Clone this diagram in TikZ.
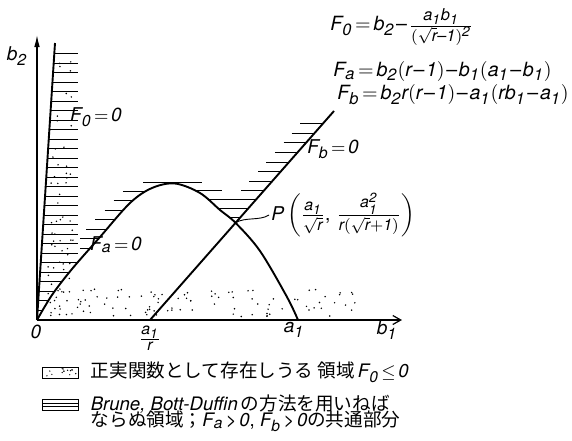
\documentclass[tikz,border=0pt]{standalone}
\usepackage{amsmath}
\usepackage{fontspec}
\setmainfont{TeX Gyre Heros}
\newfontfamily\jpfont{Noto Sans CJK JP}
\usepackage[italic]{mathastext}
\usepackage{tikz}
\usetikzlibrary{arrows.meta,positioning,calc}
\newcommand{\itd}[1]{\textit{#1}}
\newcommand{\facurve}{plot[smooth,tension=0.55] coordinates {(0,0) (1.5,2.5) (3.5,5.1)
  (6.3,8.3) (9.3,11.7) (11.5,13.2) (13.8,13.65) (16.3,12.7) (18.3,11.0)
  (19.85,9.72) (22.3,6.9) (25,2.3) (26.1,0)}}
\tikzset{
  curve/.style    = {line width=0.95pt},
  axisline/.style = {line width=0.6pt},
  hatch/.style    = {line width=0.45pt},
  stip/.style     = {radius=0.42pt},
  lbl/.style      = {inner sep=1pt, font=\fontsize{9.5}{11}\selectfont},
  eq/.style       = {inner sep=0pt, anchor=west, font=\fontsize{9.8}{11}\selectfont},
  legend/.style   = {inner sep=0pt, anchor=west, text height=7pt, text depth=2pt,
                     font=\fontsize{9.3}{11}\selectfont},
  dotkey/.style   = {draw, line width=0.4pt, minimum width=18pt, minimum height=5.5pt, inner sep=0pt,
                     path picture={\foreach \k in {1,...,14}
                       \fill ($(path picture bounding box.south west)+(rnd*16pt+1pt,rnd*4pt+0.8pt)$) circle[radius=0.35pt];}},
  hatchkey/.style = {draw, line width=0.4pt, minimum width=18pt, minimum height=5.5pt, inner sep=0pt,
                     path picture={
                       \draw[line width=0.4pt] ($(path picture bounding box.south west)!0.333!(path picture bounding box.north west)$)
                         -- ($(path picture bounding box.south east)!0.333!(path picture bounding box.north east)$);
                       \draw[line width=0.4pt] ($(path picture bounding box.south west)!0.667!(path picture bounding box.north west)$)
                         -- ($(path picture bounding box.south east)!0.667!(path picture bounding box.north east)$);}},
}
\thickmuskip=2.5mu plus 1mu
\medmuskip=1.5mu plus 1mu
\begin{document}
\begin{tikzpicture}[x=5pt,y=5pt]
  \useasboundingbox (-3.7,-12) rectangle (53.5,32);
  \coordinate (O) at (0,0);
  \coordinate (b1end) at (36.5,0);
  \coordinate (b2end) at (0,28.5);
  \coordinate (ar) at (11.3,0);
  \coordinate (a1) at (26.1,0);
  \coordinate (F0top) at (1.8,27.7);
  \coordinate (Fbtop) at (29.7,20.9);
  \coordinate (P) at (19.85,9.72);

  % dotted region F_0 <= 0
  \pgfmathsetseed{31}
  \foreach \i in {1,...,105}
    \fill (rnd*31.6+0.6, rnd*2.8+0.3) circle[stip];
  \foreach \i in {1,...,55}{
    \pgfmathsetmacro\hh{rnd*25.8+0.4}
    \fill ({0.065*\hh+0.45+rnd*(3.2-0.065*\hh)},\hh) circle[stip];
  }

  % hatching, cut off below F_a = 0
  \begin{scope}
    \clip \facurve -- (40,0) -- (40,32) -- (-4,32) -- (-4,0) -- cycle;
    \foreach \i in {0,...,27}{
      \pgfmathsetmacro\hh{1.0+0.95*\i}
      \draw[hatch] ({0.065*\hh},\hh) -- (4.1,\hh);
    }
    \foreach \hh in {7.2,8.15,9.1,10.05,11.0,11.95,12.9}
      \draw[hatch] ({max(4.3,0.96*\hh-3.8)},\hh) -- (14,\hh);
    \draw[hatch] (10.6,13.8) -- (16.5,13.8);
    \draw[hatch] (14,13.0) -- (18.5,13.0);
    \draw[hatch] (15,12.1) -- (20.3,12.1);
    \foreach \hh in {19.7,18.7,17.8,16.8,15.8,14.9,13.9,13.0,12.1}
      \draw[hatch] ({11.3+0.8804*\hh-2.3},\hh) -- ({11.3+0.8804*\hh},\hh);
    \foreach \hh in {11.2,10.3}
      \draw[hatch] (15,\hh) -- ({11.3+0.8804*\hh},\hh);
  \end{scope}

  % axes
  \draw[axisline,-{Straight Barb[length=4pt,width=4.5pt]}] (O) -- (b1end);
  \draw[axisline,-{Latex[length=6pt,width=2.8pt]}] (O) -- (b2end);

  % boundaries
  \draw[curve] (O) -- (F0top);
  \draw[curve] \facurve;
  \draw[curve] (ar) -- (Fbtop);

  \node[lbl] (lb2) at (-2.0,26.4) {$b_{\itd{2}}$};
  \node[lbl] (lb1) at (35.0,-1.0) {$b_{\itd{1}}$};
  \node[lbl] (l0) at (-0.1,-1.2) {\itd{0}};
  \node[lbl] (lar) at (11.3,-1.8) {$\frac{a_{\itd{1}}}{r}$};
  \node[lbl] (la1) at (25.7,-1.0) {$a_{\itd{1}}$};
  \node[lbl] (lF0) at (5.9,20.3) {$F_{\itd{0}}=\itd{0}$};
  \node[lbl] (lFa) at (7.9,7.5) {$F_a=\itd{0}$};
  \node[lbl] (lFb) at (29.6,17.1) {$F_b=\itd{0}$};
  \node[lbl, anchor=west] (Plab) at (23.2,10.5)
    {$P\left(\frac{a_{\itd{1}}}{\sqrt{r}},\,\frac{a_{\itd{1}}^{\itd{2}}}{r(\sqrt{r}+\itd{1})}\right)$};
  \draw[hatch] (P) .. controls +(0.9,0.6) and +(-0.9,-0.6) .. (Plab.west);

  \node[eq] (eq0) at (29.3,29.3)
    {$F_{\itd{0}}=b_{\itd{2}}-\frac{a_{\itd{1}}b_{\itd{1}}}{(\sqrt{r}-\itd{1})^{\itd{2}}}$};
  \node[eq] (eqa) at (29.6,24.9)
    {$F_a=b_{\itd{2}}(r-\itd{1})-b_{\itd{1}}(a_{\itd{1}}-b_{\itd{1}})$};
  \node[eq] (eqb) at (30.0,22.5)
    {$F_b=b_{\itd{2}}r(r-\itd{1})-a_{\itd{1}}(rb_{\itd{1}}-a_{\itd{1}})$};

  % legend
  \node[dotkey] (key1) at (2.3,-5.25) {};
  \node[legend, right=6pt of key1] (txt1)
    {{\jpfont 正実関数として存在しうる 領域}\,$F_{\itd{0}}\le\itd{0}$};
  \node[hatchkey] (key2) at (2.3,-8.5) {};
  \node[legend, right=6pt of key2] (txt2a)
    {{\itshape Brune, Bott-Duffin}\,{\jpfont の方法を用いねば}};
  \node[legend] (txt2b) at ($(txt2a.west)+(0,-8.2pt)$)
    {{\jpfont ならぬ領域；}$F_a>\itd{0}$, $F_b>\itd{0}${\jpfont の共通部分}};
\end{tikzpicture}
\end{document}
